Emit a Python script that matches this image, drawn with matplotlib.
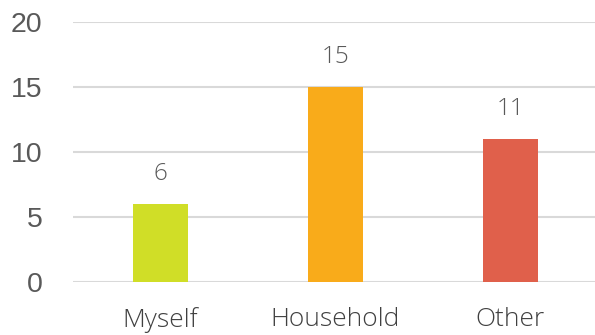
import matplotlib
matplotlib.use("Agg")
import matplotlib.pyplot as plt

categories = ["Myself", "Household", "Other"]
counts = [6, 15, 11]
bar_colors = ["#d0de27", "#f9ab1a", "#e0604b"]
y_ticks = [0, 5, 10, 15, 20]

fig = plt.figure(figsize=(5.95, 3.35), dpi=100)
ax = fig.add_axes([0.1227, 0.158, 0.8823, 0.776])

x = range(len(categories))
bars = ax.bar(x, counts, width=0.315, color=bar_colors, zorder=3)

for xi, val in zip(x, counts):
    ax.annotate(str(val), (xi, val), xytext=(0, 13), textcoords="offset points",
                ha="center", va="bottom", fontsize=17.5, color="#595959",
                family="Open Sans", weight="light")

ax.set_xlim(-0.5, 2.5)
ax.set_ylim(0, 20)
ax.set_yticks(y_ticks)
ax.set_xticks(list(x))
ax.set_xticklabels(categories, family="Open Sans", weight="light", fontsize=19, color="#404040")
ax.tick_params(axis="x", length=0, pad=18)
ax.tick_params(axis="y", length=0, pad=22, labelsize=20.5, labelcolor="#595959")
for lbl in ax.get_yticklabels():
    lbl.set_family("Liberation Sans")

ax.grid(axis="y", color="#d9d9d9", linewidth=1.5, zorder=0)
for s in ax.spines.values():
    s.set_visible(False)

fig.savefig("out.png", dpi=100)
